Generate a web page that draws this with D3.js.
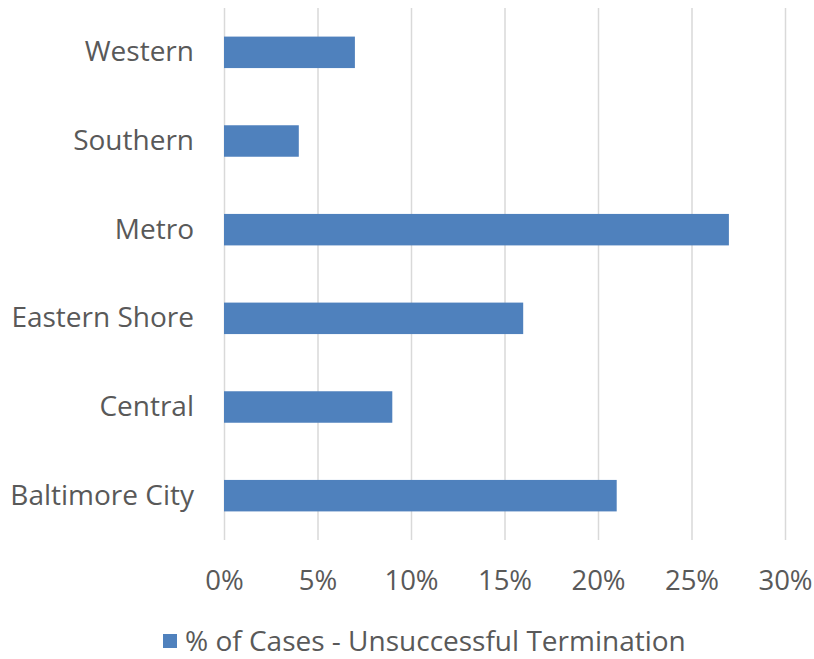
<!DOCTYPE html>
<html>
<head>
<meta charset="utf-8">
<script src="https://cdn.jsdelivr.net/npm/d3@7"></script>
<style>
  body { margin: 0; background: #fff; }
  svg text { font-family: "Open Sans", "Liberation Sans", sans-serif; fill: #595959; }
</style>
</head>
<body>
<svg width="814" height="659"></svg>
<script>
(function (d3) {
  "use strict";

  const regions = ["Western", "Southern", "Metro", "Eastern Shore", "Central", "Baltimore City"];
  const unsuccessful = [0.07, 0.04, 0.27, 0.16, 0.09, 0.21];
  const xTicks = [0, 0.05, 0.1, 0.15, 0.2, 0.25, 0.3];
  const seriesName = "% of Cases - Unsuccessful Termination";

  const data = regions.map((r, i) => ({ region: r, value: unsuccessful[i] }));

  const svg = d3.select("svg");
  const margin = { top: 8, right: 29, bottom: 119, left: 224 };
  const width = +svg.attr("width");
  const height = +svg.attr("height");
  const innerWidth = width - margin.left - margin.right;
  const innerHeight = height - margin.top - margin.bottom;

  const xScale = d3.scaleLinear().domain([0, 0.3]).range([0, innerWidth]);
  const yScale = d3.scaleBand().domain(regions).range([0, innerHeight]).paddingInner(0.645).paddingOuter(0.3225);

  const g = svg.append("g").attr("transform", `translate(${margin.left},${margin.top})`);

  // gridlines + tick labels
  const xAxis = d3.axisBottom(xScale)
    .tickValues(xTicks)
    .tickFormat(d3.format(".0%"))
    .tickSize(-innerHeight)
    .tickPadding(30);
  const xAxisG = g.append("g").attr("transform", `translate(0,${innerHeight})`).call(xAxis);
  xAxisG.select(".domain").remove();
  xAxisG.selectAll(".tick line").attr("stroke", "#d9d9d9").attr("stroke-width", 1.5);
  xAxisG.selectAll(".tick text").attr("font-size", 27.5).attr("fill", "#595959");

  const yAxis = d3.axisLeft(yScale).tickSize(0).tickPadding(30);
  const yAxisG = g.append("g").call(yAxis);
  yAxisG.select(".domain").remove();
  yAxisG.selectAll(".tick text").attr("font-size", 28).attr("fill", "#595959");

  g.selectAll("rect.bar")
    .data(data)
    .enter()
    .append("rect")
    .attr("class", "bar")
    .attr("x", xScale(0))
    .attr("y", (d) => yScale(d.region))
    .attr("width", (d) => xScale(d.value) - xScale(0))
    .attr("height", yScale.bandwidth())
    .attr("fill", "#4f81bd");

  // legend
  const legend = svg.append("g").attr("transform", "translate(163,634)");
  legend.append("rect").attr("width", 14).attr("height", 14).attr("fill", "#4f81bd");
  legend.append("text")
    .attr("x", 22)
    .attr("y", 7)
    .attr("dy", "0.35em")
    .attr("font-size", 28)
    .text(seriesName);
})(d3);
</script>
</body>
</html>
